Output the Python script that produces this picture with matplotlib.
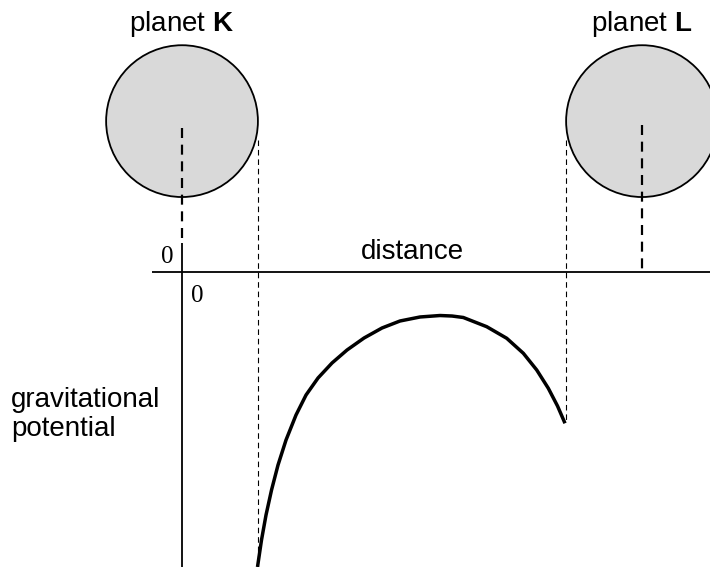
import matplotlib
matplotlib.use("Agg")
import matplotlib.pyplot as plt
from matplotlib.patches import Circle

plt.rcParams["mathtext.fontset"] = "custom"
plt.rcParams["mathtext.rm"] = "Liberation Sans"
plt.rcParams["mathtext.bf"] = "Liberation Sans:bold"

# ---- data (arbitrary units: planet K centre at 0, planet L centre at 10) ----
planet_names = ["K", "L"]
planet_x = [0.0, 10.0]
planet_y = 3.28
planet_radius = 1.65

distance = [1.641, 1.728, 1.826, 1.946, 2.087, 2.261, 2.478, 2.696, 2.957, 3.261,
            3.587, 3.957, 4.348, 4.739, 5.174, 5.609, 5.870, 6.115, 6.624, 7.059,
            7.420, 7.711, 7.963, 8.163, 8.326]
potential = [-6.413, -5.826, -5.283, -4.739, -4.196, -3.652, -3.109, -2.674, -2.304, -1.978,
             -1.696, -1.435, -1.217, -1.065, -0.978, -0.946, -0.957, -0.989, -1.189, -1.441,
             -1.767, -2.130, -2.528, -2.913, -3.289]

x_label = "distance"
y_label = "gravitational\npotential"
origin_label = "0"

# ---- figure ----
fig = plt.figure(figsize=(7.10, 5.67), dpi=100)
ax = fig.add_axes([0, 0, 1, 1])
ax.set_xlim(-3.957, 11.478)
ax.set_ylim(-6.413, 5.913)
ax.set_aspect("equal")
ax.axis("off")

sans = "Liberation Sans"
serif = "Liberation Serif"
fs = 20

# planets
for name, px in zip(planet_names, planet_x):
    ax.add_patch(Circle((px, planet_y), planet_radius, facecolor="#d9d9d9",
                        edgecolor="black", linewidth=1.3, zorder=2))
    ax.text(px, 5.25, "planet $\\mathbf{" + name + "}$", fontsize=fs, family=sans,
            ha="center", va="baseline")

# axes lines
ymin = ax.get_ylim()[0]
ax.plot([-0.65, ax.get_xlim()[1]], [0, 0], color="black", lw=1.3, solid_capstyle="butt")
ax.plot([0, 0], [0.63, ymin], color="black", lw=1.3, solid_capstyle="butt")

# dashed centre lines
ax.plot([planet_x[0], planet_x[0]], [3.12, 0.70], color="black", lw=1.6,
        dashes=(4.5, 3), zorder=3)
ax.plot([planet_x[1], planet_x[1]], [3.2, 0.0], color="black", lw=1.6,
        dashes=(4.5, 3), zorder=3)

# dashed surface lines
k_surf = planet_x[0] + planet_radius
l_surf = planet_x[1] - planet_radius
ax.plot([k_surf, k_surf], [2.87, ymin], color="black", lw=0.8, dashes=(5, 3.5), zorder=3)
ax.plot([l_surf, l_surf], [2.87, potential[-1]], color="black", lw=0.8, dashes=(5, 3.5), zorder=3)

# potential curve
ax.plot(distance, potential, color="black", lw=2.5, solid_capstyle="butt",
        solid_joinstyle="round", zorder=4)

# labels
ax.text(5.0, 0.28, x_label, fontsize=fs, family=sans, ha="center", va="baseline")
ax.text(-3.72, -3.1, y_label, fontsize=fs, family=sans, ha="left", va="center",
        linespacing=1.15)
ax.text(-0.33, 0.33, origin_label, fontsize=18, family=serif, ha="center", va="center")
ax.text(0.33, -0.52, origin_label, fontsize=18, family=serif, ha="center", va="center")

fig.savefig("out.png", dpi=100)
